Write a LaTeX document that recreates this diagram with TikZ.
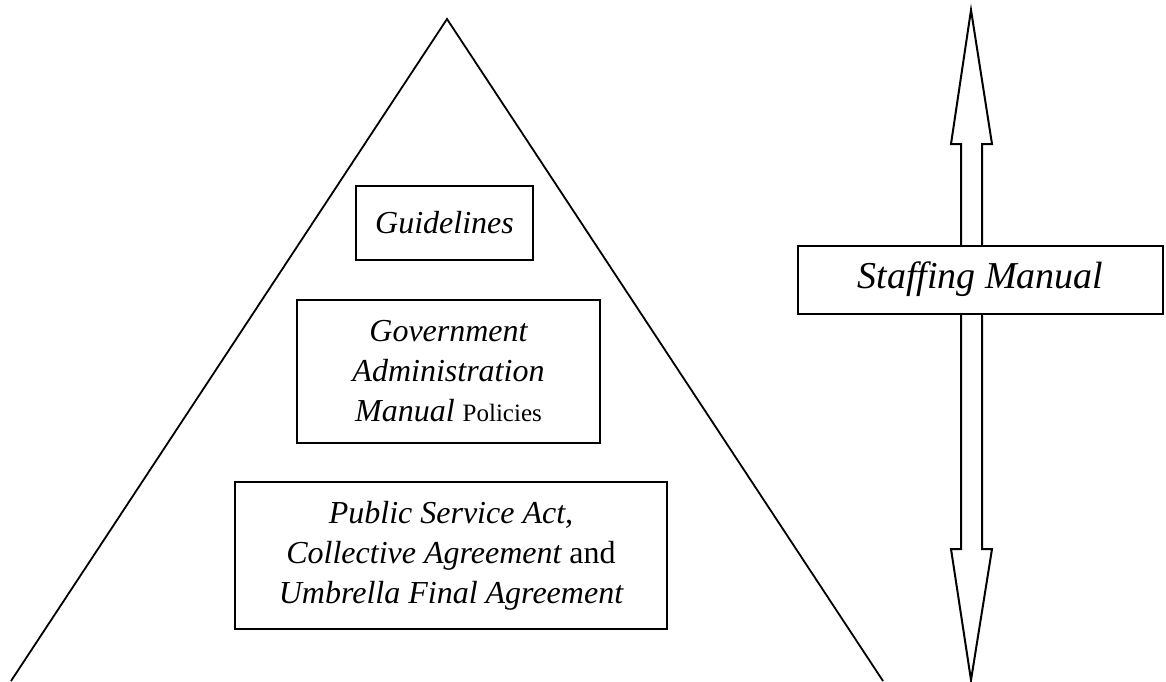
\documentclass[tikz,border=0pt]{standalone}
\usepackage{fontspec}
\setmainfont{Liberation Serif}
\begin{document}
\begin{tikzpicture}[x=1pt,y=-1pt,line width=2pt,
  box/.style={draw,line width=2pt,inner sep=0pt,align=center,font=\fontsize{32}{40}\selectfont\itshape}]
\useasboundingbox (0,0) rectangle (1166,681);
% pyramid
\draw[line width=1.8pt] (11,681) -- (447,19) -- (883,681);
% levels inside the pyramid
\node[box,minimum width=177,minimum height=74] (guide) at (444.5,223) {Guidelines};
\node[box,minimum width=303,minimum height=143] (gam) at (448.5,371.5)
  {Government\\Administration\\Manual {\upshape\fontsize{25}{40}\selectfont Policies}};
\node[box,minimum width=432,minimum height=147] (psa) at (451,555.5)
  {Public Service Act,\\Collective Agreement {\upshape and}\\Umbrella Final Agreement};
% double-headed block arrow
\draw[line width=2pt,line join=miter]
  (971,10) -- (992,144) -- (982,144) -- (982,549) -- (992,549) -- (971,680)
  -- (951,549) -- (961,549) -- (961,144) -- (951,144) -- cycle;
\node[box,fill=white,minimum width=365,minimum height=68,font=\fontsize{38}{44}\selectfont\itshape] (staff) at (980.5,279.5) {Staffing Manual};
\end{tikzpicture}
\end{document}
